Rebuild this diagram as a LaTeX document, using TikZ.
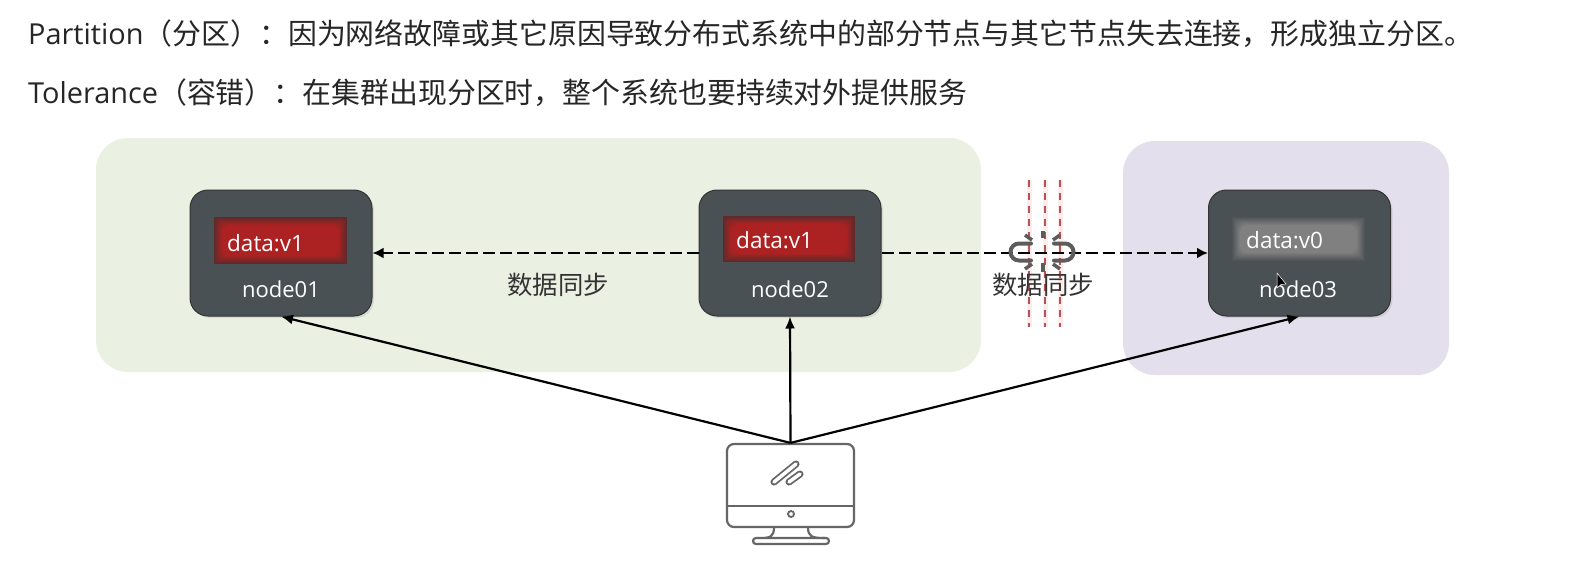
\documentclass[tikz,border=0pt]{standalone}
\usepackage{fontspec}
\setmainfont{Open Sans}
\newfontfamily\cjk{Noto Sans CJK SC}
\usetikzlibrary{arrows.meta,shadows}
\definecolor{greenzone}{HTML}{EAF0E2}
\definecolor{purplezone}{HTML}{E4DFEC}
\definecolor{nodegray}{HTML}{4A5154}
\definecolor{rededge}{HTML}{5E2A2B}
\definecolor{redcore}{HTML}{AC2222}
\definecolor{grayedge}{HTML}{505455}
\definecolor{graycore}{HTML}{808080}
\definecolor{cutred}{HTML}{B5525A}
\definecolor{linkgray}{HTML}{5C5C5C}
\definecolor{screenline}{HTML}{666666}
\tikzset{
  headline/.style={anchor=west,inner sep=0pt,text=black!85,font=\fontsize{28.9}{34}\selectfont},
  zone/.style={rounded corners=32pt},
  nodebox/.style={draw=black!80,fill=nodegray,line width=1pt,rounded corners=18pt,minimum width=182pt,minimum height=126pt,inner sep=0pt,
    drop shadow={opacity=.18,shadow xshift=2pt,shadow yshift=-2pt}},
  nodelabel/.style={text=white,inner sep=0pt,font=\fontsize{22}{26}\selectfont},
  datalabel/.style={text=white,anchor=west,inner sep=0pt,font=\fontsize{22.5}{26}\selectfont},
  synclabel/.style={inner sep=0pt,text=black!80,font=\cjk\fontsize{25.4}{30}\selectfont},
  syncline/.style={line width=2.4pt,dash pattern=on 12pt off 5pt,-{Latex[length=11pt,width=11pt]}},
  clientline/.style={line width=2.2pt,-{Latex[length=12pt,width=10pt]}},
}
\begin{document}
\begin{tikzpicture}[x=1pt,y=-1pt]
\useasboundingbox[fill=white] (0,0) rectangle (1573,573);
\node[headline] (partition) at (28,34) {Partition{\cjk（分区）：因为网络故障或其它原因导致分布式系统中的部分节点与其它节点失去连接，形成独立分区。}};
\node[headline] (tolerance) at (28,93) {Tolerance{\cjk（容错）：在集群出现分区时，整个系统也要持续对外提供服务}};
\fill[greenzone,zone] (96,138) rectangle (981,372);
\fill[purplezone,zone] (1123,141) rectangle (1449,375);
\foreach \name/\cx in {01/281,02/790,03/1299.5}{
  \node[nodebox] (box\name) at (\cx,253) {};}
% data windows, darker towards the rim
\foreach \name/\l/\r/\t/\b/\edge/\core in {01/214/347/217/264/rededge/redcore,02/723/855/216/262/rededge/redcore,03/1232/1365/217/261/grayedge/graycore}{
  \foreach \i in {0,...,8}{
    \pgfmathsetmacro\mixval{\i*100/8}
    \fill[\core!\mixval!\edge] (\l+\i,\t+\i) [rounded corners=\i pt] rectangle (\r-\i,\b-\i);}}
\node[datalabel] (data01) at (227,243) {data:v1};
\node[datalabel] (data02) at (736,240) {data:v1};
\node[datalabel] (data03) at (1246,240) {data:v0};
\foreach \name/\cx in {01/281,02/790,03/1298}{
  \node[nodelabel] (label\name) at (\cx,289) {node\name};}
% cut lines and broken link
\foreach \x in {1029,1045,1060}{
  \draw[line width=5pt,red!8] (\x,180) -- (\x,327);
  \draw[line width=1.5pt,cutred,dash pattern=on 7pt off 6pt] (\x,180) -- (\x,327);}
\draw[syncline] (box02) -- (box01);
\draw[syncline] (box02) -- (box03);
\draw[linkgray,line width=4pt,line cap=round] (1031,243.5) -- (1019,243.5) arc[start angle=-90,end angle=-270,radius=8.5] -- (1031,260.5);
\draw[linkgray,line width=4pt,line cap=round] (1054,243.5) -- (1065,243.5) arc[start angle=-90,end angle=90,radius=8.5] -- (1054,260.5);
\foreach \xa/\ya/\xb/\yb in {1043/231/1043/238,1025/235/1032/240,1060/235/1053/240,1043/263/1043/272,1032/264/1025/269,1053/264/1060/269}{
  \draw[linkgray,line width=3.5pt] (\xa,\ya) -- (\xb,\yb);}
\node[synclabel] (sync1) at (558,285) {数据同步};
\node[synclabel] (sync2) at (1043,285) {数据同步};
% client
\node[draw=screenline,line width=2.2pt,rounded corners=7pt,minimum width=127pt,minimum height=83pt,inner sep=0pt] (monitor) at (790.5,485.5) {};
\draw[screenline,line width=2.2pt] (monitor.west |- 0,506) -- (monitor.east |- 0,506);
\node[draw=screenline,line width=1.8pt,circle,minimum size=6pt,inner sep=0pt] (lens) at (791,514) {};
\draw[screenline,line width=2.2pt] (774,527) .. controls (774,537) and (770,538) .. (760,538) -- (825,538) .. controls (812,538) and (808,537) .. (808,527);
\draw[screenline,line width=2.2pt,rounded corners=3pt] (760,538) -- (753,538) -- (753,544) -- (829,544) -- (829,538) -- (822,538);
\draw[screenline,line width=1.8pt,double=white,double distance=3.5pt,line cap=round] (774,482) -- (796,464);
\draw[screenline,line width=1.8pt,double=white,double distance=3.5pt,line cap=round] (789,482) -- (800,474);
\foreach \name in {01,02,03}{
  \draw[clientline] (monitor.north) -- (box\name.south);}
% mouse pointer
\fill[black,draw=white,line width=.5pt] (1277,273) -- (1277,288) -- (1281,284.5) -- (1286,284) -- cycle;
\end{tikzpicture}
\end{document}
